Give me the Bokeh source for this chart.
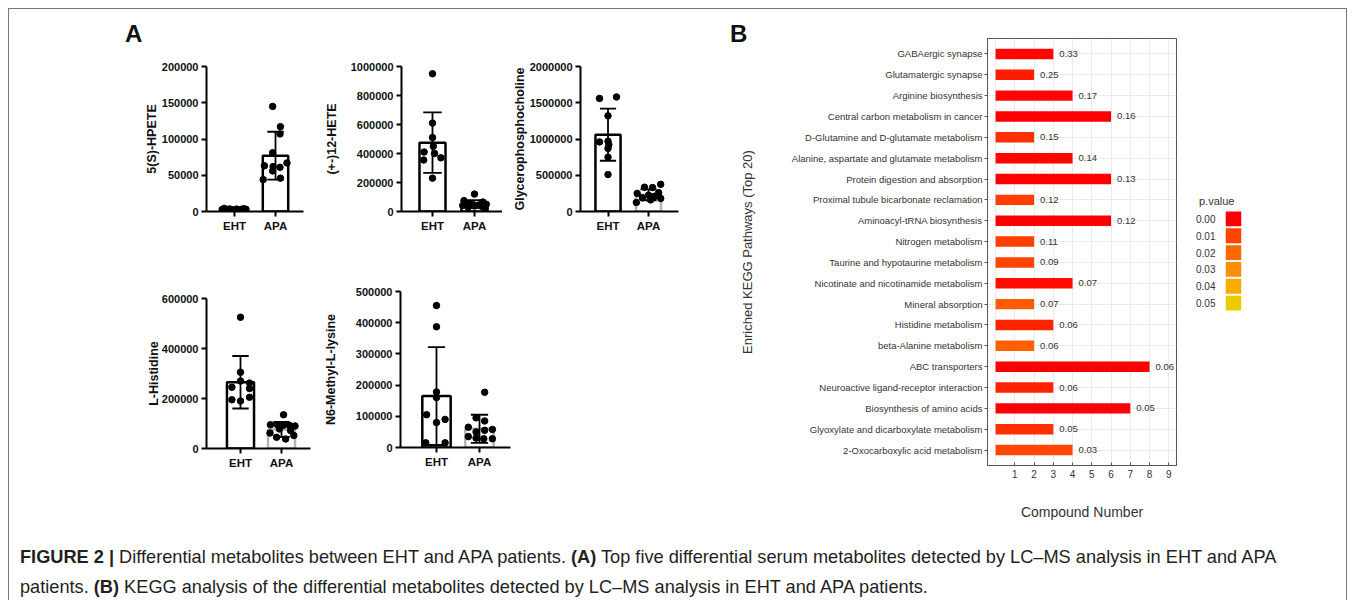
from bokeh.plotting import figure
from bokeh.models import (Range1d, FactorRange, FixedTicker, NumeralTickFormatter,
                          ColumnDataSource, LinearColorMapper, Div, Spacer)
from bokeh.layouts import row, column
from bokeh.embed import file_html
from bokeh.resources import INLINE
from bokeh.core.properties import value

FONT = "Liberation Sans"

# ---------------- Panel A data ----------------
groups = ["EHT", "APA"]

hpete_eht = [4300, 3900, 3600, 3300, 3100, 2900, 2600, 2300, 1900]
hpete_eht_dx = [-0.25, 0.22, -0.12, 0.05, 0.28, -0.3, 0.15, -0.05, 0.0]
hpete_apa = [145000, 117000, 107000, 81000, 67000, 63000, 62000, 61000, 56000, 46000, 44000]
hpete_apa_dx = [-0.07, 0.12, 0.11, -0.07, 0.28, -0.27, -0.06, 0.11, -0.07, 0.12, -0.30]
hpete_mean = [3000, 77000]
hpete_sd = [800, 33000]
hpete_ticks = [0, 50000, 100000, 150000, 200000]

hete_eht = [950000, 610000, 510000, 450000, 410000, 400000, 370000, 355000, 230000]
hete_eht_dx = [0.0, 0.0, 0.0, 0.02, -0.2, 0.05, 0.2, -0.21, 0.0]
hete_apa = [120000, 75000, 65000, 55000, 50000, 45000, 42000, 38000, 35000, 30000, 25000]
hete_apa_dx = [0.0, -0.25, 0.2, -0.1, 0.28, 0.1, -0.28, 0.0, 0.18, -0.15, 0.25]
hete_mean = [475000, 52000]
hete_sd = [208000, 27000]
hete_ticks = [0, 200000, 400000, 600000, 800000, 1000000]

gpc_eht = [1580000, 1560000, 1320000, 970000, 960000, 920000, 870000, 750000, 510000]
gpc_eht_dx = [0.21, -0.21, 0.0, 0.0, -0.21, 0.02, 0.0, 0.0, 0.0]
gpc_apa = [375000, 335000, 330000, 260000, 250000, 225000, 210000, 190000, 180000, 160000, 125000]
gpc_apa_dx = [0.3, -0.1, 0.1, 0.25, -0.28, 0.0, 0.15, -0.15, 0.3, 0.05, -0.3]
gpc_mean = [1060000, 230000]
gpc_sd = [360000, 75000]
gpc_ticks = [0, 500000, 1000000, 1500000, 2000000]

his_eht = [525000, 305000, 270000, 262000, 245000, 240000, 205000, 195000, 190000]
his_eht_dx = [0.0, 0.0, 0.0, 0.22, -0.21, 0.22, 0.22, -0.21, 0.0]
his_apa = [135000, 95000, 95000, 93000, 92000, 90000, 78000, 72000, 62000, 52000, 45000, 38000]
his_apa_dx = [0.05, -0.27, -0.1, 0.05, 0.2, 0.33, -0.05, 0.22, -0.28, 0.3, -0.12, 0.1]
his_mean = [265000, 76000]
his_sd = [105000, 30000]
his_ticks = [0, 200000, 400000, 600000]

lys_eht = [455000, 387000, 178000, 160000, 105000, 90000, 80000, 15000, 15000]
lys_eht_dx = [0.0, 0.0, 0.0, 0.0, -0.23, 0.2, 0.0, -0.25, 0.2]
lys_apa = [177000, 95000, 85000, 65000, 58000, 55000, 50000, 35000, 30000, 28000, 28000]
lys_apa_dx = [0.12, -0.08, 0.12, -0.26, 0.3, 0.12, -0.08, -0.26, -0.08, 0.1, 0.3]
lys_mean = [165000, 60000]
lys_sd = [157000, 45000]
lys_ticks = [0, 100000, 200000, 300000, 400000, 500000]

# ---------------- Panel B data ----------------
pathways = [
    "GABAergic synapse", "Glutamatergic synapse", "Arginine biosynthesis",
    "Central carbon metabolism in cancer", "D-Glutamine and D-glutamate metabolism",
    "Alanine, aspartate and glutamate metabolism", "Protein digestion and absorption",
    "Proximal tubule bicarbonate reclamation", "Aminoacyl-tRNA biosynthesis",
    "Nitrogen metabolism", "Taurine and hypotaurine metabolism",
    "Nicotinate and nicotinamide metabolism", "Mineral absorption",
    "Histidine metabolism", "beta-Alanine metabolism", "ABC transporters",
    "Neuroactive ligand-receptor interaction", "Biosynthesis of amino acids",
    "Glyoxylate and dicarboxylate metabolism", "2-Oxocarboxylic acid metabolism",
]
compound_counts = [3, 2, 4, 6, 2, 4, 6, 2, 6, 2, 2, 4, 2, 3, 2, 8, 3, 7, 3, 4]
p_values = [0.001, 0.004, 0.001, 0.0, 0.007, 0.001, 0.0, 0.009, 0.0, 0.009,
            0.010, 0.002, 0.016, 0.005, 0.017, 0.0, 0.005, 0.0, 0.007, 0.010]
impact_labels = ["0.33", "0.25", "0.17", "0.16", "0.15", "0.14", "0.13", "0.12", "0.12", "0.11",
                 "0.09", "0.07", "0.07", "0.06", "0.06", "0.06", "0.06", "0.05", "0.05", "0.03"]
x_ticks_b = [1, 2, 3, 4, 5, 6, 7, 8, 9]

legend_labels = ["0.00", "0.01", "0.02", "0.03", "0.04", "0.05"]
legend_values = [0.0, 0.01, 0.02, 0.03, 0.04, 0.05]
legend_colors = ["#ff0000", "#ff4500", "#ff6a00", "#ff8d00", "#f7ad00", "#ebcb00"]


def interp_palette(stops, n_per=20):
    def h2r(h):
        return [int(h[i:i + 2], 16) for i in (1, 3, 5)]
    out = []
    for a, b in zip(stops[:-1], stops[1:]):
        ra, rb = h2r(a), h2r(b)
        for k in range(n_per):
            t = k / n_per
            out.append("#%02x%02x%02x" % tuple(round(ra[i] + (rb[i] - ra[i]) * t) for i in range(3)))
    out.append(stops[-1])
    return out


mapper = LinearColorMapper(palette=interp_palette(legend_colors), low=0.0, high=0.05)


def panel_a(label, eht, eht_dx, apa, apa_dx, means, sds, ticks, apa_line, cfg):
    p = figure(x_range=Range1d(cfg["xs"], cfg["xe"]), y_range=Range1d(0, ticks[-1]),
               frame_width=cfg["fw"], frame_height=cfg["fh"],
               min_border_left=cfg["l"], min_border_right=cfg["r"],
               min_border_top=cfg["t"], min_border_bottom=cfg["b"],
               output_backend="svg", toolbar_location=None)
    p.outline_line_color = None
    p.grid.visible = False
    p.background_fill_color = None
    p.border_fill_color = None
    xs = [1, 2]
    p.vbar(x=xs, top=means, bottom=0, width=cfg["bw"], fill_color="white",
           line_color=["black", apa_line], line_width=2.5)
    lo = [m - s for m, s in zip(means, sds)]
    hi = [m + s for m, s in zip(means, sds)]
    p.segment(x0=xs, y0=lo, x1=xs, y1=hi, line_color="black", line_width=1.8)
    cw = cfg["cap"]
    p.segment(x0=[x - cw for x in xs], y0=hi, x1=[x + cw for x in xs], y1=hi,
              line_color="black", line_width=1.8)
    p.segment(x0=[x - cw for x in xs], y0=lo, x1=[x + cw for x in xs], y1=lo,
              line_color="black", line_width=1.8)
    p.scatter(x=[1 + d for d in eht_dx], y=eht, size=6.5, color="black")
    p.scatter(x=[2 + d for d in apa_dx], y=apa, size=6.5, color="black")

    for ax in (p.xaxis[0], p.yaxis[0]):
        ax.axis_line_width = 2
        ax.axis_line_color = "black"
        ax.major_tick_line_width = 2
        ax.major_tick_out = 5
        ax.major_tick_in = 0
        ax.minor_tick_line_color = None
        ax.major_label_text_font = FONT
        ax.major_label_text_font_style = "bold"
        ax.major_label_text_color = "#111111"
        ax.major_label_text_font_size = "11px"
    p.xaxis.ticker = FixedTicker(ticks=xs)
    p.xaxis.major_label_overrides = {1: groups[0], 2: groups[1]}
    p.xaxis.major_label_standoff = 3
    p.xaxis.major_label_text_font_size = "11.5px"
    p.yaxis.ticker = FixedTicker(ticks=ticks)
    p.yaxis.formatter = NumeralTickFormatter(format="0")
    p.yaxis.major_label_standoff = 3
    p.yaxis.axis_label = label
    p.yaxis.axis_label_text_font = FONT
    p.yaxis.axis_label_text_font_style = "bold"
    p.yaxis.axis_label_text_font_size = "12.5px"
    p.yaxis.axis_label_text_color = "#111111"
    p.yaxis.axis_label_standoff = cfg["ls"]
    return p


f1 = panel_a("5(S)-HPETE", hpete_eht, hpete_eht_dx, hpete_apa, hpete_apa_dx, hpete_mean, hpete_sd,
             hpete_ticks, "black",
             dict(xs=0.317, xe=2.683, fw=97, fh=145, l=197, r=10, t=17, b=40, bw=0.62, cap=0.2, ls=0))
f2 = panel_a("(+-)12-HETE", hete_eht, hete_eht_dx, hete_apa, hete_apa_dx, hete_mean, hete_sd,
             hete_ticks, "black",
             dict(xs=0.262, xe=2.667, fw=101, fh=145, l=88, r=0, t=17, b=40, bw=0.62, cap=0.22, ls=9))
f3 = panel_a("Glycerophosphocholine", gpc_eht, gpc_eht_dx, gpc_apa, gpc_apa_dx, gpc_mean, gpc_sd,
             gpc_ticks, "#b4b4b4",
             dict(xs=0.321, xe=2.74, fw=98, fh=145, l=78, r=31, t=17, b=40, bw=0.62, cap=0.2, ls=0))
f4 = panel_a("L-Histidine", his_eht, his_eht_dx, his_apa, his_apa_dx, his_mean, his_sd,
             his_ticks, "#b4b4b4",
             dict(xs=0.171, xe=2.707, fw=104, fh=150, l=197, r=2, t=40, b=94, bw=0.66, cap=0.2, ls=-2))
f5 = panel_a("N6-Methyl-L-lysine", lys_eht, lys_eht_dx, lys_apa, lys_apa_dx, lys_mean, lys_sd,
             lys_ticks, "#b4b4b4",
             dict(xs=0.163, xe=2.721, fw=110, fh=156, l=88, r=199, t=40, b=95, bw=0.66, cap=0.2, ls=15))

LETTER = ("font-family:'Liberation Sans',Arial,sans-serif;font-weight:bold;font-size:24px;"
          "line-height:30px;color:#111111;margin:0;")
divA = Div(text='<div style="%spadding:10px 0 0 116px;">A</div>' % LETTER,
           width=700, height=40, margin=(0, 0, 0, 0))
panelA = column(divA, row(f1, f2, f3), row(column(Spacer(width=303, height=7), f4), f5))

# ---------------- Panel B ----------------
srcB = ColumnDataSource(dict(pathway=pathways, count=compound_counts, p=p_values, label=impact_labels))
pb = figure(y_range=FactorRange(factors=pathways[::-1], range_padding=0.24, range_padding_units="absolute"),
            x_range=Range1d(-0.42, 9.4), frame_width=189, frame_height=427,
            min_border_left=250, min_border_right=10, min_border_top=29, min_border_bottom=77,
            output_backend="svg", toolbar_location=None)
pb.background_fill_color = "white"
pb.border_fill_color = None
pb.outline_line_color = "#555555"
pb.outline_line_width = 1
pb.xgrid.ticker = FixedTicker(ticks=[0] + x_ticks_b)
pb.xgrid.grid_line_color = "#ebebeb"
pb.ygrid.grid_line_color = "#ebebeb"
pb.hbar(y="pathway", left=0, right="count", height=0.5, source=srcB,
        fill_color={"field": "p", "transform": mapper}, line_color=None)
pb.text(x="count", y="pathway", text="label", source=srcB, x_offset=6,
        text_baseline="middle", text_align="left", text_font=value(FONT),
        text_font_size="9.5px", text_color="#333333")
pb.xaxis.ticker = FixedTicker(ticks=x_ticks_b)
for ax in (pb.xaxis[0], pb.yaxis[0]):
    ax.axis_line_color = "#555555"
    ax.major_tick_line_color = "#555555"
    ax.minor_tick_line_color = None
    ax.major_label_text_font = FONT
    ax.major_label_text_color = "#333333"
    ax.axis_label_text_font = FONT
    ax.axis_label_text_font_style = "normal"
    ax.axis_label_text_color = "#333333"
pb.xaxis.major_label_text_font_size = "10px"
pb.xaxis.major_tick_in = 3
pb.xaxis.major_tick_out = 0
pb.xaxis.major_label_standoff = 4
pb.xaxis.axis_label = "Compound Number"
pb.xaxis.axis_label_text_font_size = "14px"
pb.xaxis.axis_label_standoff = 23
pb.yaxis.major_label_text_font_size = "9.5px"
pb.yaxis.major_tick_in = 0
pb.yaxis.major_tick_out = 3
pb.yaxis.major_label_standoff = 2
pb.yaxis.axis_label = "Enriched KEGG Pathways (Top 20)"
pb.yaxis.axis_label_text_font_size = "13px"
pb.yaxis.axis_label_standoff = 34

divB = Div(text='<div style="%spadding:10px 0 0 21px;width:60px;overflow:visible;">B</div>' % LETTER,
           width=27, height=533, margin=(0, 0, 0, 0), styles={"overflow": "visible", "z-index": "5"})

# legend
srcL = ColumnDataSource(dict(lab=legend_labels, p=legend_values))
pl = figure(x_range=Range1d(0, 1), y_range=FactorRange(factors=legend_labels[::-1]),
            frame_width=16, frame_height=101, min_border_left=39, min_border_right=105,
            min_border_top=0, min_border_bottom=77,
            output_backend="svg", toolbar_location=None)
pl.outline_line_color = None
pl.border_fill_color = None
pl.grid.visible = False
pl.rect(x=0.5, y="lab", width=1, height=0.88, source=srcL,
        fill_color={"field": "p", "transform": mapper}, line_color=None)
pl.xaxis.visible = False
pl.yaxis.axis_line_color = None
pl.yaxis.major_tick_line_color = None
pl.yaxis.major_label_standoff = 4
pl.yaxis.major_label_text_font = FONT
pl.yaxis.major_label_text_font_size = "10px"
pl.yaxis.major_label_text_color = "#333333"
divP = Div(text='<div style="font-family:\'Liberation Sans\',Arial,sans-serif;font-size:11px;'
                'line-height:18px;color:#333333;padding-left:13px;margin:0;">p.value</div>',
           width=160, height=18, margin=(0, 0, 0, 0))
legend_col = column(Spacer(width=160, height=183), divP, pl)

caption_html = (
    '<div style="font-family:\'Liberation Sans\',Arial,sans-serif;font-size:18.2px;line-height:30px;'
    'color:#231f20;padding-left:11px;white-space:nowrap;margin:0;">'
    '<b>FIGURE 2 |</b> Differential metabolites between EHT and APA patients. <b>(A)</b> Top five '
    'differential serum metabolites detected by LC&ndash;MS analysis in EHT and APA<br>'
    'patients. <b>(B)</b> KEGG analysis of the differential metabolites detected by LC&ndash;MS '
    'analysis in EHT and APA patients.</div>'
)
caption = Div(text=caption_html, width=1336, height=58, margin=(0, 0, 0, 0))

top = row(panelA, divB, pb, legend_col)
framed = column(top, caption,
                styles={"border-top": "1px solid #777777", "border-left": "1px solid #777777",
                        "border-right": "1px solid #777777"})
page = row(Spacer(width=8, height=10), column(Spacer(width=10, height=8), framed))

open("out.html", "w").write(file_html(page, INLINE))
